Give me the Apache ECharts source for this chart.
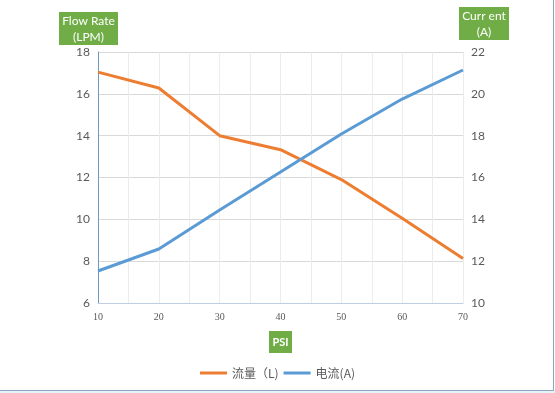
<!DOCTYPE html>
<html>
<head>
<meta charset="utf-8">
<script src="https://cdn.jsdelivr.net/npm/echarts@6/dist/echarts.min.js"></script>
<style>html,body{margin:0;padding:0;background:#fff;}#c{width:555px;height:393px;}</style>
</head>
<body>
<div id="c"></div>
<script>
const psi = [10, 20, 30, 40, 50, 60, 70];
const flowLPM = [17.04, 16.28, 14.0, 13.33, 11.9, 10.05, 8.13];
const currentA = [11.53, 12.58, 14.45, 16.26, 18.08, 19.75, 21.14];
const seriesNames = ['流量（L)', '电流(A)'];
const leftTitle = 'Flow Rate\n(LPM)';
const rightTitle = 'Curr ent\n(A)';
const xTitle = 'PSI';

const chart = echarts.init(document.getElementById('c'), null, {renderer: 'canvas'});
const lblColor = '#595959';
const font = 'Lato, "Noto Sans", sans-serif';
const green = '#70ad47';
chart.setOption({
  backgroundColor: '#ffffff',
  animation: false,
  grid: {left: 98, right: 92, top: 52, bottom: 90},
  legend: {
    bottom: 9,
    left: 'center',
    itemWidth: 27,
    itemHeight: 3,
    itemGap: 5,
    textStyle: {color: lblColor, fontSize: 12, fontFamily: '"Noto Sans CJK SC", ' + font},
    data: [{name: seriesNames[0], icon: 'rect'}, {name: seriesNames[1], icon: 'rect'}]
  },
  xAxis: {
    type: 'value', min: 10, max: 70, interval: 10,
    axisLine: {show: true, lineStyle: {color: '#bfcfdf', width: 1}},
    axisTick: {show: false},
    axisLabel: {color: lblColor, fontSize: 10, fontFamily: '"Liberation Serif", "DejaVu Serif", serif', margin: 9},
    splitLine: {show: true, lineStyle: {color: '#ececec'}},
    minorTick: {show: false, splitNumber: 2},
    minorSplitLine: {show: true, lineStyle: {color: '#ececec'}}
  },
  yAxis: [
    {
      type: 'value', min: 6, max: 18, interval: 2,
      axisLine: {show: true, lineStyle: {color: '#6a9bc3', width: 1}},
      axisTick: {show: false},
      axisLabel: {color: lblColor, fontSize: 12, fontFamily: font, margin: 8},
      splitLine: {show: true, lineStyle: {color: '#d9d9d9'}}
    },
    {
      type: 'value', min: 10, max: 22, interval: 2, position: 'right',
      axisLine: {show: false},
      axisTick: {show: false},
      axisLabel: {color: lblColor, fontSize: 12, fontFamily: font, margin: 8},
      splitLine: {show: false}
    }
  ],
  series: [
    {
      name: seriesNames[0], type: 'line', yAxisIndex: 0,
      data: psi.map((p, i) => [p, flowLPM[i]]),
      symbol: 'none', lineStyle: {color: '#ed7d31', width: 3}, itemStyle: {color: '#ed7d31'}
    },
    {
      name: seriesNames[1], type: 'line', yAxisIndex: 1,
      data: psi.map((p, i) => [p, currentA[i]]),
      symbol: 'none', lineStyle: {color: '#5b9bd5', width: 3}, itemStyle: {color: '#5b9bd5'}
    }
  ],
  graphic: [
    {type: 'rect', shape: {x: 0, y: 390, width: 555, height: 3}, style: {fill: '#e6f3f8'}, silent: true},
    {type: 'line', shape: {x1: 0, y1: 390.5, x2: 554, y2: 390.5}, style: {stroke: '#8aa7c0', lineWidth: 1}, silent: true},
    {type: 'line', shape: {x1: 553.5, y1: 0, x2: 553.5, y2: 391}, style: {stroke: '#8aa7c0', lineWidth: 1}, silent: true},
    {type: 'rect', shape: {x: 59, y: 12, width: 59, height: 33}, style: {fill: green}, silent: true},
    {type: 'text', x: 88.5, y: 29, style: {text: leftTitle, fill: '#ffffff', fontSize: 12, lineHeight: 16, align: 'center', verticalAlign: 'middle', fontFamily: font}},
    {type: 'rect', shape: {x: 459, y: 7, width: 50, height: 33}, style: {fill: green}, silent: true},
    {type: 'text', x: 484, y: 24, style: {text: rightTitle, fill: '#ffffff', fontSize: 12, lineHeight: 16, align: 'center', verticalAlign: 'middle', fontFamily: font}},
    {type: 'rect', shape: {x: 269, y: 331, width: 23, height: 22}, style: {fill: green}, silent: true},
    {type: 'text', x: 280.5, y: 342.5, style: {text: xTitle, fill: '#ffffff', fontSize: 11, fontWeight: 'bold', align: 'center', verticalAlign: 'middle', fontFamily: font}}
  ]
});
</script>
</body>
</html>
